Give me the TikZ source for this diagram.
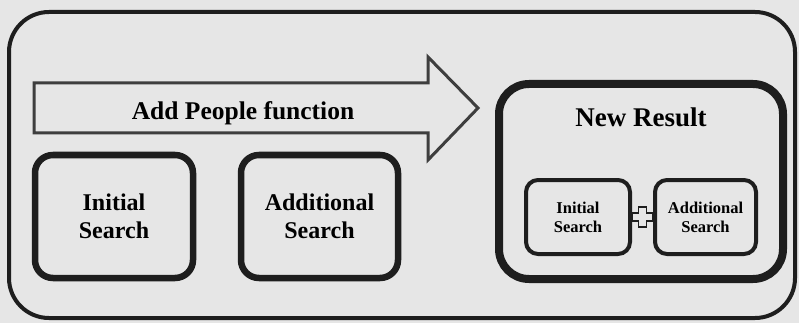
\documentclass[tikz,border=0pt]{standalone}
\usepackage{fontspec}
\setmainfont{Liberation Serif}
\usetikzlibrary{calc}
\definecolor{bg}{RGB}{230,230,230}
\definecolor{ink}{RGB}{30,30,30}
\definecolor{arrowink}{RGB}{62,62,62}
\begin{document}
\begin{tikzpicture}[x=1pt,y=-1pt,
  outerbox/.style={draw=ink,line width=4pt,rounded corners=40pt},
  bigbox/.style={draw=ink,line width=6.5pt,rounded corners=18pt,align=center,
     font=\fontsize{24}{28}\selectfont\bfseries,inner sep=0pt},
  resultbox/.style={draw=ink,line width=8pt,rounded corners=30pt,inner sep=0pt},
  smallbox/.style={draw=ink,line width=4pt,rounded corners=12pt,align=center,
     font=\fontsize{16.5}{19}\selectfont\bfseries,inner sep=0pt},
  bigarrow/.style={draw=arrowink,line width=3pt,fill=bg,line join=miter},
  plusshape/.style={draw=ink,line width=1.8pt,fill=bg,line join=miter},
  label/.style={font=\fontsize{25.5}{28}\selectfont\bfseries,text=black,inner sep=0pt}
]
\fill[bg] (0,0) rectangle (799,323);
\useasboundingbox (0,0) rectangle (799,323);
% outer frame
\draw[outerbox] (9,12) rectangle (795,318);
% big arrow
\draw[bigarrow] (34,83) -- (428,83) -- (428,57) -- (478,108) -- (428,160) -- (428,133) -- (34,133) -- cycle;
\node[label] (arrowtext) at (243,113) {Add People function};
% left boxes
\node[bigbox,minimum width=158pt,minimum height=123pt] (init) at (114,216.5) {Initial\\Search};
\node[bigbox,minimum width=157pt,minimum height=123pt] (addl) at (319.5,216.5) {Additional\\Search};
% new result box
\node[resultbox,minimum width=284pt,minimum height=195pt] (res) at (641,181.5) {};
\node[label,font=\fontsize{27}{30}\selectfont\bfseries] (restitle) at (641,117) {New Result};
% inner boxes
\node[smallbox,minimum width=104pt,minimum height=74pt] (ib1) at (578,217) {Initial\\Search};
\node[smallbox,minimum width=101pt,minimum height=74pt] (ib2) at (705.5,217) {Additional\\Search};
% plus sign joining them
\coordinate (pc) at ($(ib1.east)!0.5!(ib2.west)$);
\draw[plusshape] ($(pc)+(-10,-4)$) -- ($(pc)+(-4,-4)$) -- ($(pc)+(-4,-10)$) -- ($(pc)+(4,-10)$) -- ($(pc)+(4,-4)$) -- ($(pc)+(10,-4)$)
  -- ($(pc)+(10,4)$) -- ($(pc)+(4,4)$) -- ($(pc)+(4,10)$) -- ($(pc)+(-4,10)$) -- ($(pc)+(-4,4)$) -- ($(pc)+(-10,4)$) -- cycle;
\end{tikzpicture}
\end{document}
